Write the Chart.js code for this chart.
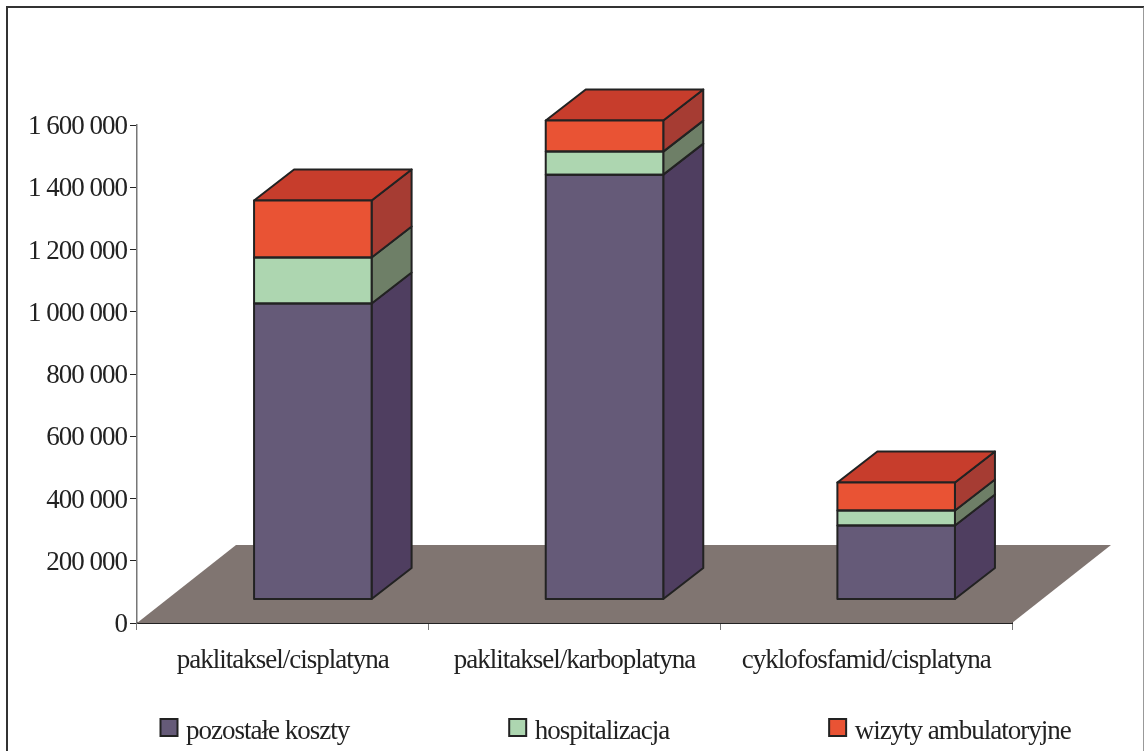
<!DOCTYPE html>
<html>
  <head>
    <meta charset="utf-8" />
    <title>Koszty leczenia</title>
    <script src="https://cdn.jsdelivr.net/npm/chart.js"></script>
    <style>
      body {
        margin: 0;
        background-color: #ffffff;
        overflow: hidden;
      }
      #frame {
        position: absolute;
        left: 6px;
        top: 6px;
        width: 1135px;
        height: 780px;
        border: 2px solid #333333;
        border-right-color: #999999;
      }
      #costChart {
        position: absolute;
        left: 0;
        top: 0;
      }
    </style>
  </head>
  <body>
    <div id="frame"></div>
    <canvas id="costChart" width="1144" height="751"></canvas>

    <script>
      const categories = [
        "paklitaksel/cisplatyna",
        "paklitaksel/karboplatyna",
        "cyklofosfamid/cisplatyna",
      ];
      const seriesNames = ["pozostałe koszty", "hospitalizacja", "wizyty ambulatoryjne"];
      const pozostaleKoszty = [951000, 1365000, 238000];
      const hospitalizacja = [148000, 74000, 48000];
      const wizytyAmbulatoryjne = [183000, 100000, 90000];

      const frontColors = ["#655a78", "#add6b0", "#e95334"];
      const sideColors = ["#4f3e60", "#6e7f67", "#a63c33"];
      const topColor = "#c73d2c";
      const floorColor = "#807571";
      const lineColor = "#222222";
      const textColor = "#222222";
      const fontFamily = "'Liberation Serif', 'Times New Roman', serif";
      const fontSize = 27;

      // depth of the floor and of a column, plus how far a column sits behind the front edge
      const floorDepth = { x: 99, y: 78 };
      const barDepth = { x: 40, y: 31 };
      const barShift = { x: 30, y: 23.5 };

      function face(ctx, points, color) {
        ctx.beginPath();
        points.forEach((p, i) => (i ? ctx.lineTo(p[0], p[1]) : ctx.moveTo(p[0], p[1])));
        ctx.closePath();
        ctx.fillStyle = color;
        ctx.fill();
        ctx.lineWidth = 2;
        ctx.lineJoin = "round";
        ctx.strokeStyle = lineColor;
        ctx.stroke();
      }

      const box3d = {
        id: "box3d",
        afterLayout(chart) {
          // value labels sit a little below their tick
          const yScale = chart.scales.y;
          if (yScale.labelsLowered) return;
          yScale.labelsLowered = true;
          const drawLabels = yScale.drawLabels;
          yScale.drawLabels = function (area) {
            chart.ctx.save();
            chart.ctx.translate(0, 2);
            drawLabels.call(this, area);
            chart.ctx.restore();
          };
        },
        beforeDraw(chart) {
          chart.ctx.letterSpacing = "-1px";
        },
        beforeDatasetsDraw(chart) {
          const ctx = chart.ctx;
          const area = chart.chartArea;

          // floor
          ctx.beginPath();
          ctx.moveTo(area.left, area.bottom);
          ctx.lineTo(area.right, area.bottom);
          ctx.lineTo(area.right + floorDepth.x, area.bottom - floorDepth.y);
          ctx.lineTo(area.left + floorDepth.x, area.bottom - floorDepth.y);
          ctx.closePath();
          ctx.fillStyle = floorColor;
          ctx.fill();

          // columns stand further back on the floor
          ctx.save();
          ctx.translate(barShift.x, -barShift.y);
          chart.data.datasets.forEach((ds, i) => {
            chart.getDatasetMeta(i).data.forEach((bar) => {
              const right = bar.x + bar.width / 2;
              const left = bar.x - bar.width / 2;
              face(ctx, [
                [right, bar.y],
                [right + barDepth.x, bar.y - barDepth.y],
                [right + barDepth.x, bar.base - barDepth.y],
                [right, bar.base],
              ], sideColors[i]);
              if (i === chart.data.datasets.length - 1) {
                face(ctx, [
                  [left, bar.y],
                  [left + barDepth.x, bar.y - barDepth.y],
                  [right + barDepth.x, bar.y - barDepth.y],
                  [right, bar.y],
                ], topColor);
              }
            });
          });
        },
        afterDatasetsDraw(chart) {
          // outline the front faces, still inside the column shift
          const ctx = chart.ctx;
          ctx.lineWidth = 2;
          ctx.strokeStyle = lineColor;
          chart.data.datasets.forEach((ds, i) => {
            chart.getDatasetMeta(i).data.forEach((bar) => {
              ctx.strokeRect(bar.x - bar.width / 2, bar.y, bar.width, bar.base - bar.y);
            });
          });
          ctx.restore();
        },
        afterDraw(chart) {
          // legend row, evenly gapped between text end and next swatch
          const ctx = chart.ctx;
          ctx.save();
          ctx.font = fontSize + "px " + fontFamily;
          ctx.textBaseline = "middle";
          let x = 160.5;
          seriesNames.forEach((name, i) => {
            ctx.fillStyle = frontColors[i];
            ctx.fillRect(x, 719, 17, 17);
            ctx.strokeStyle = lineColor;
            ctx.lineWidth = 2;
            ctx.strokeRect(x, 719, 17, 17);
            ctx.fillStyle = textColor;
            ctx.fillText(name, x + 25.5, 732);
            x += 25.5 + ctx.measureText(name).width + 160;
          });
          ctx.restore();
        },
      };

      new Chart(document.getElementById("costChart"), {
        type: "bar",
        data: {
          labels: categories,
          datasets: [pozostaleKoszty, hospitalizacja, wizytyAmbulatoryjne].map((values, i) => ({
            label: seriesNames[i],
            data: values,
            backgroundColor: frontColors[i],
            borderWidth: 0,
            barPercentage: 0.403,
            categoryPercentage: 1,
          })),
        },
        options: {
          responsive: false,
          animation: false,
          layout: { padding: { top: 125, right: 132, bottom: 0, left: 0 } },
          plugins: {
            legend: { display: false },
            tooltip: { enabled: false },
          },
          scales: {
            x: {
              stacked: true,
              afterFit: (scale) => {
                scale.height = 128;
              },
              grid: {
                drawOnChartArea: false,
                color: "#777777",
                tickLength: 7,
              },
              border: { color: lineColor, width: 2 },
              ticks: {
                color: textColor,
                padding: 15,
                maxRotation: 0,
                font: { family: fontFamily, size: fontSize },
              },
            },
            y: {
              stacked: true,
              min: 0,
              max: 1600000,
              afterFit: (scale) => {
                scale.width = 137;
              },
              grid: {
                drawOnChartArea: false,
                color: lineColor,
                tickLength: 7,
              },
              border: { color: "#777777", width: 1.5 },
              ticks: {
                stepSize: 200000,
                color: textColor,
                padding: 3,
                font: { family: fontFamily, size: fontSize },
                callback: (v) => String(v).replace(/\B(?=(\d{3})+$)/g, " "),
              },
            },
          },
        },
        plugins: [box3d],
      });
    </script>
  </body>
</html>
